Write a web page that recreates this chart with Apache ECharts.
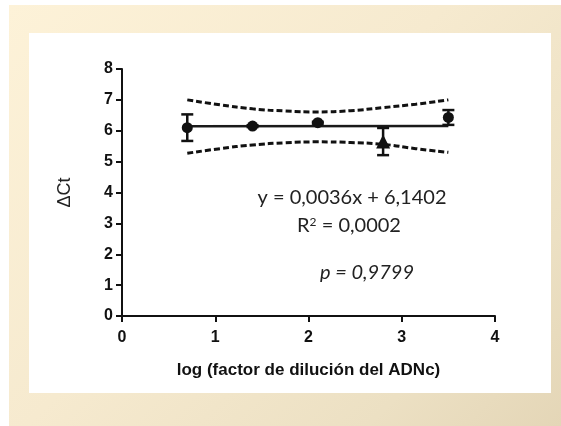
<!DOCTYPE html>
<html>
<head>
<meta charset="utf-8">
<script src="https://cdn.jsdelivr.net/npm/echarts@6/dist/echarts.min.js"></script>
<style>
  html, body { margin: 0; padding: 0; background: #ffffff; }
  #frame {
    position: absolute; left: 9px; top: 5px; width: 552px; height: 421px;
    background: linear-gradient(135deg, #fdf2d8 0%, #f6eacf 45%, #ece0c3 80%, #e4d6b7 100%);
  }
  #panel {
    position: absolute; left: 29px; top: 33px; width: 522px; height: 360px;
    background: #ffffff;
  }
  #chart { position: absolute; left: 0; top: 0; width: 561px; height: 426px; }
</style>
</head>
<body>
<div id="frame"></div>
<div id="panel"></div>
<div id="chart"></div>
<script>
// ΔCt measured at each dilution step (log10 of the cDNA dilution factor)
const dilutionLog = [0.7, 1.4, 2.1, 2.8, 3.5];
const deltaCtMean = [6.10, 6.15, 6.26, 5.65, 6.43];
const deltaCtErr  = [0.43, 0.03, 0.03, 0.44, 0.24];
const pointSymbol = ['circle', 'circle', 'circle', 'triangle', 'circle'];
const pointSize   = [11, 11, 11, 14, 11];

// Linear fit reported on the plot
const fitSlope = 0.0036;
const fitIntercept = 6.1402;
const fitR2 = '0,0002';
const fitP = '0,9799';

// 95% confidence band of the fit
const bandX     = [0.7, 1.05, 1.4, 1.75, 2.1, 2.45, 2.8, 3.15, 3.5];
const bandUpper = [7.00, 6.84, 6.71, 6.64, 6.61, 6.65, 6.75, 6.86, 7.00];
const bandLower = [5.27, 5.42, 5.54, 5.61, 5.64, 5.62, 5.56, 5.42, 5.30];

// Axis ticks
const xTicks = [0, 1, 2, 3, 4];
const yTicks = [0, 1, 2, 3, 4, 5, 6, 7, 8];

const fitX = [dilutionLog[0], dilutionLog[dilutionLog.length - 1]];
const fitLine = fitX.map(x => [x, fitIntercept + fitSlope * x]);

const fmt = v => v.toFixed(4).replace('.', ',');
const axisFont = 'Liberation Sans, Arial, sans-serif';
const textFont = 'Lato, Open Sans, sans-serif';

const chart = echarts.init(document.getElementById('chart'), null, { renderer: 'canvas' });

const axisCommon = {
  type: 'value',
  axisLine: { show: true, onZero: false, lineStyle: { color: '#111', width: 2 } },
  axisTick: { show: true, inside: false, length: 6, lineStyle: { color: '#111', width: 2 } },
  splitLine: { show: false },
  axisLabel: { color: '#111', fontFamily: axisFont, fontWeight: 'bold', fontSize: 16 }
};

chart.setOption({
  animation: false,
  backgroundColor: 'transparent',
  grid: { left: 122, right: 66, top: 69, bottom: 110 },
  xAxis: Object.assign({}, axisCommon, {
    min: xTicks[0], max: xTicks[xTicks.length - 1], interval: 1,
    axisLabel: Object.assign({}, axisCommon.axisLabel, { margin: 14 }),
    name: 'log (factor de dilución del ADNc)',
    nameLocation: 'middle', nameGap: 46,
    nameTextStyle: { color: '#111', fontFamily: axisFont, fontWeight: 'bold', fontSize: 17 }
  }),
  yAxis: Object.assign({}, axisCommon, {
    min: yTicks[0], max: yTicks[yTicks.length - 1], interval: 1,
    axisLabel: Object.assign({}, axisCommon.axisLabel, { margin: 9 }),
    name: 'ΔCt',
    nameLocation: 'middle', nameGap: 48, nameRotate: 90,
    nameTextStyle: { color: '#222', fontFamily: axisFont, fontSize: 18 }
  }),
  series: [
    {
      type: 'line', name: 'upper', data: bandX.map((x, i) => [x, bandUpper[i]]),
      smooth: true, symbol: 'none',
      lineStyle: { color: '#111', width: 3, type: [6, 3] }, z: 2
    },
    {
      type: 'line', name: 'lower', data: bandX.map((x, i) => [x, bandLower[i]]),
      smooth: true, symbol: 'none',
      lineStyle: { color: '#111', width: 3, type: [6, 3] }, z: 2
    },
    {
      type: 'line', name: 'fit', data: fitLine, symbol: 'none',
      lineStyle: { color: '#1a1a1a', width: 2.5 }, z: 3
    },
    {
      type: 'custom', name: 'error',
      data: dilutionLog.map((x, i) => [x, deltaCtMean[i], deltaCtErr[i]]),
      renderItem: function (params, api) {
        const x = api.value(0), m = api.value(1), e = api.value(2);
        const top = api.coord([x, m + e]);
        const bot = api.coord([x, m - e]);
        const half = 6;
        const st = { stroke: '#111', lineWidth: 2.5 };
        return {
          type: 'group',
          children: [
            { type: 'line', shape: { x1: top[0], y1: top[1], x2: bot[0], y2: bot[1] }, style: st },
            { type: 'line', shape: { x1: top[0] - half, y1: top[1], x2: top[0] + half, y2: top[1] }, style: st },
            { type: 'line', shape: { x1: bot[0] - half, y1: bot[1], x2: bot[0] + half, y2: bot[1] }, style: st }
          ]
        };
      },
      z: 4
    },
    {
      type: 'scatter', name: 'mean',
      data: dilutionLog.map((x, i) => ({
        value: [x, deltaCtMean[i]], symbol: pointSymbol[i], symbolSize: pointSize[i]
      })),
      itemStyle: { color: '#111', opacity: 1 }, z: 5
    }
  ],
  graphic: [
    {
      type: 'text', position: [352, 198],
      style: {
        text: 'y = ' + fmt(fitSlope) + 'x + ' + fmt(fitIntercept),
        font: '20px ' + textFont, fill: '#222', align: 'center', verticalAlign: 'middle'
      }
    },
    {
      type: 'text', position: [349, 226],
      style: {
        text: 'R{sup|2} = ' + fitR2,
        rich: { sup: { fontSize: 12, verticalAlign: 'top', padding: [0, 0, 8, 0], fontFamily: textFont } },
        font: '20px ' + textFont, fill: '#222', align: 'center', verticalAlign: 'middle'
      }
    },
    {
      type: 'text', position: [367, 273],
      style: {
        text: 'p = ' + fitP,
        font: 'italic 20px ' + textFont, fill: '#222', align: 'center', verticalAlign: 'middle'
      }
    }
  ]
});
</script>
</body>
</html>
